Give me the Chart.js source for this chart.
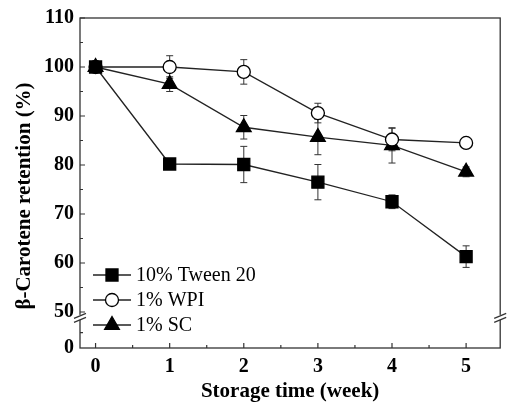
<!DOCTYPE html>
<html>
<head>
<meta charset="utf-8">
<script src="https://cdn.jsdelivr.net/npm/chart.js@4.4.1/dist/chart.umd.min.js"></script>
<style>
  html, body { margin: 0; padding: 0; background: #fff; }
  #wrap { width: 510px; height: 406px; }
</style>
</head>
<body>
<div id="wrap"><canvas id="chart" width="510" height="406"></canvas></div>
<script>
// data
const weeks = [0, 1, 2, 3, 4, 5];
const tweenVals = [100, 80.2, 80.1, 76.5, 72.5, 61.3];
const tweenErr  = [0.5, 0.6, 3.7, 3.6, 1.4, 2.2];
const wpiVals   = [100, 100, 99.0, 90.6, 85.2, 84.5];
const wpiErr    = [0.5, 2.3, 2.5, 2.0, 2.3, 0.7];
const scVals    = [100, 96.5, 87.7, 85.7, 84.0, 78.6];
const scErr     = [0.5, 1.5, 2.4, 3.6, 3.6, 1.0];
const seriesNames = ["10% Tween 20", "1% WPI", "1% SC"];
const xTicks = [0, 1, 2, 3, 4, 5];
const yTicks = [50, 60, 70, 80, 90, 100, 110];
const yBreakZero = 42.65; // axis is broken: "0" sits here, below the 50 mark

const SERIF = "'Liberation Serif', 'Times New Roman', serif";
const ink = "#111";

const styles = [
  { pointStyle: "rect", radius: 8.5, fill: "#000" },
  { pointStyle: "circle", radius: 6.5, fill: "#fff" },
  { pointStyle: "triangle", radius: 8.5, fill: "#000" }
];
const allVals = [tweenVals, wpiVals, scVals];
const allErr = [tweenErr, wpiErr, scErr];

const datasets = allVals.map((vals, k) => ({
  label: seriesNames[k],
  data: vals.map((v, i) => ({ x: weeks[i], y: v })),
  borderColor: "#222",
  borderWidth: 1.3,
  pointStyle: styles[k].pointStyle,
  pointRadius: styles[k].radius,
  pointBackgroundColor: styles[k].fill,
  pointBorderColor: "#000",
  pointBorderWidth: 1.3,
  tension: 0,
  clip: false
}));

// error bars, under the markers
const errorBars = {
  id: "errorBars",
  beforeDatasetsDraw(chart) {
    const { ctx, scales: { x, y } } = chart;
    ctx.save();
    ctx.strokeStyle = "#333";
    ctx.lineWidth = 1;
    allVals.forEach((vals, k) => {
      vals.forEach((v, i) => {
        const px = x.getPixelForValue(weeks[i]);
        const yt = y.getPixelForValue(v + allErr[k][i]);
        const yb = y.getPixelForValue(v - allErr[k][i]);
        ctx.beginPath();
        ctx.moveTo(px, yt); ctx.lineTo(px, yb);
        ctx.moveTo(px - 3.5, yt); ctx.lineTo(px + 3.5, yt);
        ctx.moveTo(px - 3.5, yb); ctx.lineTo(px + 3.5, yb);
        ctx.stroke();
      });
    });
    ctx.restore();
  }
};

// frame, inward ticks, axis breaks, y title, legend
const decorations = {
  id: "decorations",
  afterDraw(chart) {
    const { ctx, chartArea: a, scales: { x, y } } = chart;
    ctx.save();
    ctx.strokeStyle = "#333";
    ctx.lineWidth = 1.3;
    ctx.strokeRect(a.left, a.top, a.right - a.left, a.bottom - a.top);

    // ticks pointing inward
    ctx.lineWidth = 1.2;
    ctx.beginPath();
    for (let w = 0; w <= 5; w += 0.5) {
      const px = x.getPixelForValue(w);
      const len = Number.isInteger(w) ? 5 : 3;
      ctx.moveTo(px, a.bottom); ctx.lineTo(px, a.bottom - len);
    }
    for (let v = 50; v <= 110; v += 5) {
      const py = y.getPixelForValue(v);
      const len = v % 10 === 0 ? 5 : 3;
      ctx.moveTo(a.left, py); ctx.lineTo(a.left + len, py);
    }
    const pyMinor = (y.getPixelForValue(yBreakZero) + y.getPixelForValue(48.9)) / 2;
    ctx.moveTo(a.left, pyMinor); ctx.lineTo(a.left + 3, pyMinor);
    ctx.stroke();

    // axis break marks
    const by = y.getPixelForValue(48.9);
    [a.left, a.right].forEach(bx => {
      ctx.fillStyle = "#fff";
      ctx.fillRect(bx - 2, by - 2.5, 4, 5);
      ctx.beginPath();
      ctx.moveTo(bx - 6, by + 1); ctx.lineTo(bx + 6, by - 4);
      ctx.moveTo(bx - 6, by + 5); ctx.lineTo(bx + 6, by);
      ctx.stroke();
    });

    // y title
    ctx.fillStyle = "#000";
    ctx.font = "bold 21px " + SERIF;
    ctx.textAlign = "center";
    ctx.textBaseline = "middle";
    ctx.translate(25, 196);
    ctx.rotate(-Math.PI / 2);
    ctx.fillText("\u03b2-Carotene retention (%)", 0, 0);
    ctx.restore();

    // legend
    ctx.save();
    const rows = [275, 300, 325];
    seriesNames.forEach((name, k) => {
      const ly = rows[k];
      ctx.strokeStyle = "#222";
      ctx.lineWidth = 1.3;
      ctx.beginPath();
      ctx.moveTo(93, ly); ctx.lineTo(131, ly);
      ctx.stroke();
      ctx.fillStyle = styles[k].fill;
      ctx.strokeStyle = "#000";
      Chart.helpers.drawPoint(ctx, {
        pointStyle: styles[k].pointStyle, radius: styles[k].radius, borderWidth: 1.3, rotation: 0
      }, 112, ly);
      ctx.fillStyle = "#000";
      ctx.font = "20px " + SERIF;
      ctx.textAlign = "left";
      ctx.textBaseline = "middle";
      ctx.fillText(name, 136, ly + 1);
    });
    ctx.restore();
  }
};

new Chart(document.getElementById("chart"), {
  type: "line",
  data: { datasets },
  plugins: [errorBars, decorations],
  options: {
    responsive: false,
    animation: false,
    layout: { padding: { top: 18, right: 2, left: 0, bottom: 0 } },
    plugins: { legend: { display: false }, tooltip: { enabled: false } },
    scales: {
      x: {
        type: "linear",
        min: -0.21,
        max: 5.46,
        afterBuildTicks: s => { s.ticks = xTicks.map(v => ({ value: v })); },
        afterFit: s => { s.height = 58; },
        grid: { display: false, drawTicks: false },
        border: { display: false },
        ticks: { color: "#000", padding: 7, font: { family: SERIF, size: 20, weight: "bold" } },
        title: {
          display: true,
          text: "Storage time (week)",
          color: "#000",
          padding: { top: 0, bottom: 2 },
          font: { family: SERIF, size: 21, weight: "bold" }
        }
      },
      y: {
        type: "linear",
        min: yBreakZero,
        max: 110,
        afterBuildTicks: s => { s.ticks = [yBreakZero, ...yTicks].map(v => ({ value: v })); },
        afterFit: s => { s.width = 80; },
        grid: { display: false, drawTicks: false },
        border: { display: false },
        ticks: {
          color: "#000",
          padding: 6,
          font: { family: SERIF, size: 20, weight: "bold" },
          callback: v => (v === yBreakZero ? "0" : String(v))
        }
      }
    }
  }
});
</script>
</body>
</html>
